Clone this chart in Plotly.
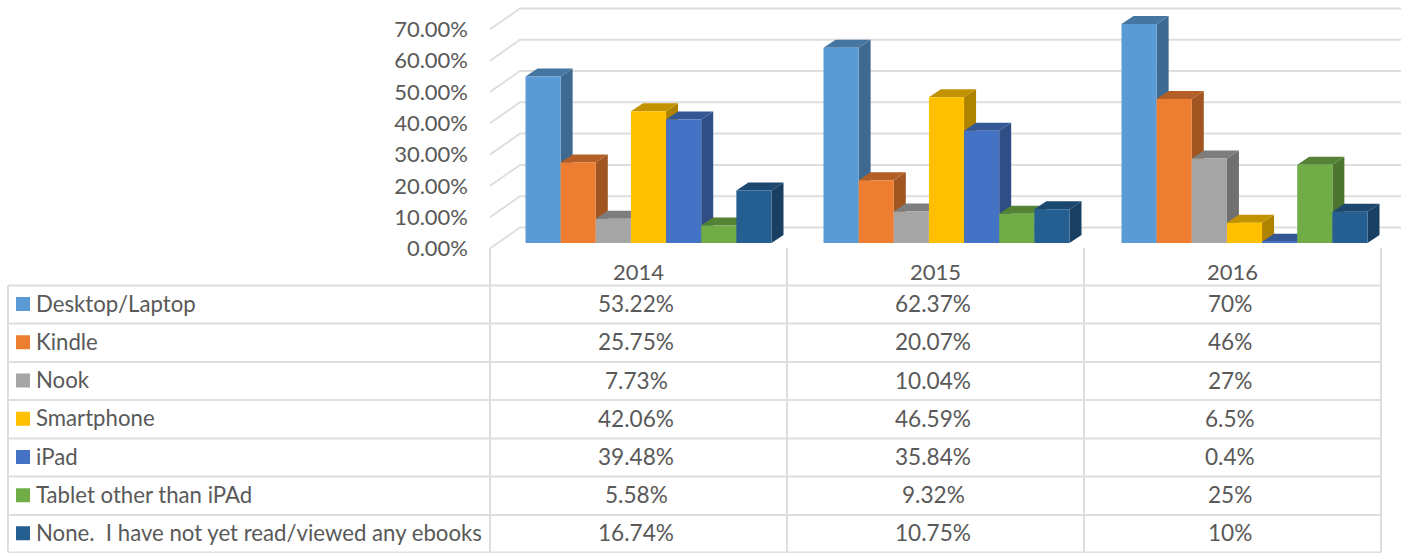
import plotly.graph_objects as go

years = ["2014", "2015", "2016"]
series = ["Desktop/Laptop", "Kindle", "Nook", "Smartphone", "iPad", "Tablet other than iPAd",
          "None.\u00a0\u00a0I have not yet read/viewed any ebooks"]
desktop = [53.22, 62.37, 70]
kindle = [25.75, 20.07, 46]
nook = [7.73, 10.04, 27]
smartphone = [42.06, 46.59, 6.5]
ipad = [39.48, 35.84, 0.4]
tablet = [5.58, 9.32, 25]
none_yet = [16.74, 10.75, 10]
values = [desktop, kindle, nook, smartphone, ipad, tablet, none_yet]
colors = ["#5B9BD5", "#ED7D31", "#A5A5A5", "#FFC000", "#4472C4", "#70AD47", "#255E91"]
axis_ticks = [0, 10, 20, 30, 40, 50, 60, 70]

W, H = 1401, 553
PX_X = 298.0      # pixels per category
PX_Y = 3.13       # pixels per percentage point
X0 = 648.5        # pixel of first category centre
Y_WALL = 248.5    # pixel of 0% on the front edge of the wall
Y_BAR = 243.0     # pixel of 0% on the front face of the bars
BARGAP = 0.1745
GRID = "#DEDEDE"
TEXT = "#595959"
FONT = "Lato"


def shade(hex_color, k):
    r, g, b = (int(hex_color[i:i + 2], 16) for i in (1, 3, 5))
    return f"rgb({r * k:.0f},{g * k:.0f},{b * k:.0f})"


xrange_ = [-X0 / PX_X, (W - X0) / PX_X]
bar_shift = (Y_WALL - Y_BAR) / PX_Y
dx, dy = 12 / PX_X, 8 / PX_Y
wall_l, wall_dx, wall_dy = (490 - X0) / PX_X, 30 / PX_X, 21 / PX_Y
bw = (1 - BARGAP) / len(series)

fig = go.Figure()

# wall gridlines
gx, gy = [], []
for t in axis_ticks:
    gx += [wall_l, wall_l + wall_dx, xrange_[1], None]
    gy += [t, t + wall_dy, t + wall_dy, None]
fig.add_trace(go.Scatter(x=gx, y=gy, mode="lines", line=dict(color=GRID, width=2),
                         hoverinfo="skip", showlegend=False))

# receding faces of the bars, behind the front faces
for c in range(len(years)):
    for s, name in enumerate(series):
        v = values[s][c] + bar_shift
        base = bar_shift
        left = c + (s - len(series) / 2) * bw
        right = left + bw
        fig.add_trace(go.Scatter(
            x=[right, right + dx, right + dx, right, right],
            y=[base, base + dy, v + dy, v, base],
            mode="lines", fill="toself", fillcolor=shade(colors[s], 0.68),
            line=dict(width=0), hoverinfo="skip", showlegend=False))
        fig.add_trace(go.Scatter(
            x=[left, left + dx, right + dx, right, left],
            y=[v, v + dy, v + dy, v, v],
            mode="lines", fill="toself", fillcolor=shade(colors[s], 0.76),
            line=dict(width=0), hoverinfo="skip", showlegend=False))

# front faces
for s, name in enumerate(series):
    fig.add_trace(go.Bar(x=list(range(len(years))), y=values[s], name=name,
                         marker=dict(color=colors[s], line=dict(width=0)),
                         xaxis="x2", yaxis="y2", showlegend=False))

# data table
col_edges = [490, 787, 1084, 1381]
row_edges = [285.5, 323.5, 362, 400, 438.5, 476.5, 515, 552.5]
line = dict(color=GRID, width=2)
shapes = []


def hline(x1, x2, y):
    shapes.append(dict(type="line", xref="paper", yref="paper", x0=x1 / W, x1=x2 / W,
                       y0=1 - y / H, y1=1 - y / H, line=line))


def vline(x, y1, y2):
    shapes.append(dict(type="line", xref="paper", yref="paper", x0=x / W, x1=x / W,
                       y0=1 - y1 / H, y1=1 - y2 / H, line=line))


for y in row_edges:
    hline(8, col_edges[-1], y)
vline(8, row_edges[0], row_edges[-1])
for x in col_edges:
    vline(x, 248, row_edges[-1])

annotations = []


def label(text, x, y, anchor, size=22):
    annotations.append(dict(text=text, xref="paper", yref="paper", x=x / W, y=1 - y / H,
                            xanchor=anchor, yanchor="middle", showarrow=False,
                            font=dict(family=FONT, size=size, color=TEXT)))


for c, year in enumerate(years):
    cx = (col_edges[c] + col_edges[c + 1]) / 2
    label(year, cx, 272, "center")
    for s in range(len(series)):
        v = values[s][c]
        txt = f"{v:g}%" if year == "2016" else f"{v:.2f}%"
        label(txt, cx - 2.5, (row_edges[s] + row_edges[s + 1]) / 2 - 1, "center", 22.6)

for s, name in enumerate(series):
    yc = (row_edges[s] + row_edges[s + 1]) / 2 - 0.5
    label(name, 33.5, yc - 1, "left", 22.2)
    shapes.append(dict(type="rect", xref="paper", yref="paper", x0=16 / W, x1=30 / W,
                       y0=1 - (yc + 7) / H, y1=1 - (yc - 7) / H,
                       fillcolor=colors[s], line=dict(width=0)))

fig.update_layout(
    width=W, height=H, margin=dict(l=0, r=0, t=0, b=0),
    paper_bgcolor="white", plot_bgcolor="rgba(0,0,0,0)",
    barmode="group", bargap=BARGAP, bargroupgap=0,
    showlegend=False, shapes=shapes, annotations=annotations,
    xaxis=dict(range=xrange_, visible=False, domain=[0, 1], fixedrange=True),
    xaxis2=dict(range=xrange_, visible=False, overlaying="x", anchor="y2", fixedrange=True),
    yaxis=dict(range=[(Y_WALL - H) / PX_Y, Y_WALL / PX_Y], anchor="free", position=468 / W,
               tickvals=axis_ticks, ticktext=[f"{t:.2f}%" for t in axis_ticks],
               ticks="", showgrid=False, zeroline=False, showline=False,
               tickfont=dict(family=FONT, size=22, color=TEXT), fixedrange=True),
    yaxis2=dict(range=[(Y_BAR - H) / PX_Y, Y_BAR / PX_Y], visible=False, overlaying="y",
                anchor="x2", fixedrange=True),
)

fig.write_html("out.html", config=dict(displayModeBar=False),
               post_script="document.body.style.margin='0';document.body.style.overflow='hidden';")
